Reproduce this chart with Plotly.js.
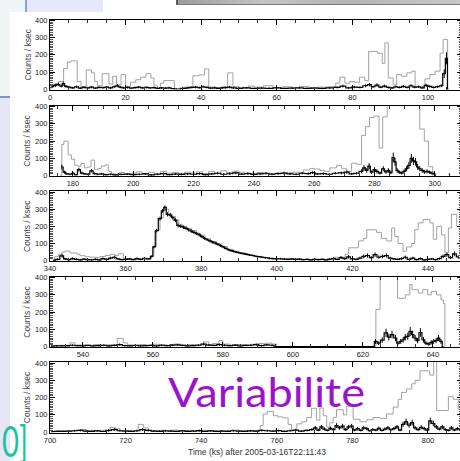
<!DOCTYPE html>
<html><head><meta charset="utf-8">
<script src="https://cdn.plot.ly/plotly-3.0.1.min.js"></script>
<style>
html,body{margin:0;padding:0;overflow:hidden;background:#fff;width:460px;height:461px;}
#wrap{position:relative;width:460px;height:461px;overflow:hidden;background:#fff;}
#chart{position:absolute;left:0;top:0;width:464px;height:461px;}
.d{position:absolute;box-sizing:border-box;}
#over{position:absolute;left:0;top:0;width:460px;height:461px;pointer-events:none;}
</style></head><body>
<div id="wrap">
  <div class="d" style="left:0;top:0;width:25px;height:12px;background:#f0f6f6"></div>
  <div class="d" style="left:25px;top:0;width:2px;height:12px;background:#8d9fe2"></div>
  <div class="d" style="left:27px;top:0;width:76px;height:12px;background:#e7e8f9"></div>
  <div class="d" style="left:176px;top:0;width:284px;height:5px;background:linear-gradient(90deg,#9c9c9c,#c4c4c4 30%,#b4b4b4 60%,#c8c8c8);border-left:2px solid #5a5a5a;border-bottom:1px solid #7a7a7a"></div>
  <div class="d" style="left:0;top:12px;width:10px;height:84px;background:#f0f6f6"></div>
  <div class="d" style="left:0;top:96px;width:10px;height:2px;background:#7e90d8"></div>
  <div class="d" style="left:0;top:98px;width:10px;height:363px;background:#e6e6f6"></div>
  <div id="chart"></div>
  <svg id="over" width="460" height="461">
    <text x="168" y="407" font-family="Lato, 'Noto Sans', sans-serif" font-size="41" fill="#9b13cf" textLength="197" lengthAdjust="spacingAndGlyphs">Variabilité</text>
    <text x="2" y="457" font-family="Lato, 'Noto Sans', sans-serif" font-size="42" fill="#1dc3a2" textLength="26" lengthAdjust="spacingAndGlyphs">0]</text>
  </svg>
</div>
<script>
// ---------- Panel 1 : 0 - 109 ks ----------
const gx1 = [0.0,0.3,1.2,2.3,3.6,4.6,5.6,7.2,8.2,9.6,11.0,11.8,12.6,13.8,15.6,16.6,17.6,18.8,20.0,21.3,22.7,24.0,25.4,26.7,27.5,28.4,29.2,30.1,32.9,35.2,37.8,39.4,40.9,42.0,44.0,45.5,47.0,48.4,50.0,52.5,54.0,56.5,59.0,61.5,64.0,66.0,68.5,71.0,73.5,75.6,76.7,78.0,79.3,80.6,81.9,83.3,84.3,86.6,87.9,88.6,89.5,90.8,91.7,93.0,94.4,95.7,96.6,98.3,99.2,100.5,101.9,103.2,104.0,105.2];
const gy1 = [0,25,30,45,120,158,165,45,15,112,95,45,20,90,30,75,25,85,15,40,55,70,90,65,20,5,35,50,0,12,78,83,118,12,8,14,95,15,10,18,12,20,10,14,8,16,10,12,14,35,70,35,45,40,70,50,220,210,150,270,65,25,85,75,95,105,12,15,60,85,105,210,290,0];
const bx1 = [0.5,1.4,2.2,3.0,3.5,4.2,5.0,6.0,7.0,8.0,9.0,10.0,11.0,12.0,13.0,14.0,15.0,16.0,17.0,17.8,18.6,19.5,20.5,21.5,22.5,23.5,24.5,25.5,26.5,27.5,28.5,29.5,30.5,31.5,32.5,33.4,35.6,36.5,37.5,38.5,39.5,40.5,41.5,42.5,43.5,44.5,45.5,46.5,47.5,48.5,50,52,54,56,58,60,62,64,66,68,70,72,74,76,77.5,79,80.5,82,83.5,84.5,85.5,86.5,87.5,88.5,89.5,90.5,91.5,92.5,93.5,94.5,95.5,96.5,97.5,98.5,99.5,100.5,101.5,102.5,103.5,104.3,104.9,105.4];
const by1 = [15,22,28,18,32,16,12,8,14,6,10,8,12,6,10,9,12,8,14,20,12,8,10,6,9,12,8,10,7,9,5,7,6,8,3,1,4,8,10,12,9,14,10,6,8,5,7,9,12,8,5,7,4,6,5,7,4,6,8,5,6,4,7,10,18,8,12,10,20,26,14,24,12,18,10,8,14,10,16,10,20,12,14,8,22,16,10,14,20,90,180,0];
const be1 = [8,10,10,8,12,8,7,6,7,5,6,6,7,5,6,6,7,6,7,9,7,6,6,5,6,7,6,6,5,6,5,5,5,6,4,3,4,6,6,7,6,7,6,5,6,5,5,6,7,6,5,5,4,5,5,5,4,5,6,5,5,4,5,6,8,6,7,6,9,10,7,10,7,8,6,6,7,6,8,6,9,7,7,6,10,8,6,7,9,25,35,0];

// ---------- Panel 2 : 172 - 309 ks ----------
const gx2 = [175.8,176.3,177.0,178.4,179.5,180.6,181.6,182.7,183.8,184.8,186.0,187.2,188.3,189.4,190.6,191.7,192.8,194.0,195.5,197,199,201,203,205,207,209,211,213,215,217,219,221,223,225,227,229,231,233,235,237,239,241,243,245,247,249,251,253,255.5,256.4,258.6,260.0,261.9,263.5,265.2,267.4,269.1,270.8,272.4,274.1,275.7,277.0,278.3,279.8,281.5,282.7,284.2,295.0,296.5,297.9,299.3];
const gy2 = [0,180,200,120,95,60,55,70,45,50,90,35,42,55,62,25,10,8,18,10,14,22,12,20,10,25,14,18,12,20,15,22,12,25,14,28,18,26,20,15,12,18,10,12,15,14,16,20,18,33,42,38,30,25,45,58,40,23,72,65,232,283,336,345,160,340,420,270,200,52,0];
const bx2 = [176.3,177.2,178.0,179.0,180.0,181.0,182.0,183.0,184.0,185.0,186.2,187.2,188.2,189.5,191,192.5,194,196,198,200,202,204,206,208,210,212,214,216,218,220,222,224,226,228,230,232,234,236,238,240,242,244,246,248,250,252,254,256,258,259.5,261,263,265,267,269,270.8,272.4,274,275.7,276.5,277.4,278.2,279.0,280.0,280.8,281.8,282.9,283.8,284.6,285.4,286.2,286.8,287.5,288.2,289.0,289.8,290.6,291.4,292.2,292.9,293.6,294.3,295.0,295.8,296.6,297.4,298.2,299.0,299.8,300.3];
const by2 = [50,20,10,8,14,6,35,15,10,8,28,12,8,10,6,8,5,7,9,6,8,10,5,8,12,6,9,7,10,8,12,6,10,14,8,11,16,9,12,7,10,14,8,12,15,10,8,14,12,18,10,12,8,14,16,20,10,14,25,45,30,55,20,35,25,15,40,22,30,18,105,80,30,20,15,25,40,60,100,85,80,50,40,30,22,25,20,15,10,0];
const be2 = [14,9,6,6,7,5,11,8,6,6,10,7,6,6,5,6,5,5,6,5,6,6,5,6,7,5,6,5,6,6,7,5,6,7,6,7,8,6,7,5,6,7,6,7,8,6,6,7,7,8,6,7,6,7,8,9,6,7,12,16,13,18,10,14,12,9,15,11,13,10,28,24,13,10,9,12,15,20,26,24,22,17,15,13,11,12,10,9,7,0];

// ---------- Panel 3 : 340 - 449 ks ----------
const gx3 = [340.9,341.2,342.2,343.1,344.0,345.3,347.1,347.9,349.3,350.6,352.4,353.2,354.6,355.9,357.2,358.1,359.4,360.3,362.0,364.0,366.0,366.9,367.5,368.2,369.1,370.0,370.6,371.4,372.3,373.2,374.1,375.0,376.2,377.5,378.8,379.9,381.0,382.5,384.0,385.5,387.0,388.5,390.0,392.0,394.0,396.0,398.0,400.0,403.0,406.0,410.0,413.0,415.0,418.1,419.0,421.6,422.9,423.8,426.4,427.7,429.1,430.4,431.2,432.1,433.4,434.3,435.7,436.5,437.4,438.7,440.5,441.4,442.3,443.6,444.5,445.4,446.2,447.6];
const gy3 = [0,23,37,50,56,45,38,29,23,20,18,24,30,37,30,40,12,8,10,6,12,28,82,178,248,292,300,272,258,238,212,200,188,175,160,148,128,112,96,82,66,54,44,34,25,18,12,10,8,6,8,6,20,38,75,115,130,180,165,130,115,190,140,100,55,80,100,180,220,240,220,125,200,150,45,190,270,200];
const bx3 = [341,342,343.2,344,345,346,347,348,349,350,351,352,353,354,355,356,357,358,359,360,361,362,363,364,365,366.2,366.9,367.5,368.2,369.1,369.8,370.4,371.1,371.8,372.5,373.2,373.9,374.6,375.3,376.0,376.7,377.4,378.1,378.8,379.5,380.2,380.9,381.6,382.3,383.0,383.7,384.4,385.1,385.8,386.5,387.2,387.9,388.6,389.3,390.0,390.7,391.4,392.1,392.8,393.5,394.2,394.9,395.6,396.3,397,398,399,400,401,402,403,404,405,406,407,408,409,410,411,412,413,414,415,416,417,418,419,420,421,422,423,424,425,426,427,428,429,430,431,432,433,434,435,436,437,438,439,440,441,442,443,444,445,446,447,448];
const by3 = [3,8,28,10,6,12,8,5,9,6,4,8,5,12,7,15,20,10,6,8,10,6,12,8,14,10,25,80,175,245,290,310,270,265,250,235,205,200,195,188,180,172,165,158,150,140,130,122,115,108,102,96,88,80,72,64,58,54,50,46,43,40,37,33,30,27,24,22,20,17,14,12,10,11,9,8,10,7,9,6,8,5,7,6,8,5,9,12,8,18,12,22,10,8,15,25,30,18,35,20,25,30,15,10,8,12,20,8,15,6,12,4,8,10,6,12,25,35,18,40,22];
const be3 = [4,6,11,6,5,7,6,5,6,5,4,6,5,7,5,8,9,6,5,6,6,5,7,6,7,4,6,8,10,11,12,12,12,12,11,11,11,10,10,10,10,10,10,9,9,9,9,8,8,8,8,8,8,7,7,7,7,7,6,6,6,6,6,6,5,5,5,5,5,5,7,6,6,6,5,5,6,5,5,5,5,4,5,5,5,4,5,7,5,9,7,10,6,5,8,11,12,9,13,10,11,12,8,6,5,7,10,5,8,5,7,4,5,6,5,7,11,13,9,14,10];

// ---------- Panel 4 : 530.6 - 648.3 ks ----------
const gx4 = [530.8,531.0,533,535,536.3,537.7,539,541,543,545,547,549.8,551.5,552.8,554,556,558,560,562,564,566.0,568.0,570,572,574.5,576.0,577.0,578.9,580.0,582,584,586,588,590,592,594,595.3,623.7,624.9,629.9,632.1,633.4,634.0,635.8,637.1,638.5,639.5,641.0,642.3,643.0,643.4];
const gy4 = [0,5,8,4,22,8,10,6,12,8,10,48,22,10,6,12,8,14,10,6,15,8,12,10,28,12,18,35,15,8,12,10,14,18,20,15,0,215,420,280,300,360,330,310,330,300,320,300,270,250,0];
const bx4 = [531,532.5,534,535.5,537,538.5,540,541.5,543,544.5,546,547.5,549,550.5,552,553.5,555,556.5,558,559.5,561,562.5,564,565.5,567,568.5,570,571.5,573,574.5,576,577.5,579,580.5,582,583.5,585,586.5,588,589.5,591,592.5,594,595.2,622.9,623.6,624.5,625.5,626.6,627.4,628.3,629.3,630.0,630.8,631.5,632.1,632.8,633.5,634.2,634.9,635.6,636.4,637.3,638.0,638.8,639.5,640.2,640.9,641.6,642.3,643.0];
const by4 = [3,5,4,6,8,6,5,7,4,6,8,5,7,12,6,5,8,4,6,7,5,8,6,9,10,7,5,6,8,15,9,7,12,8,6,9,5,7,8,12,6,10,8,0,0,30,20,38,80,55,70,50,20,30,40,55,60,88,70,50,35,82,40,20,15,25,30,35,50,30,0];
const be4 = [4,5,4,5,6,5,5,5,4,5,6,5,5,7,5,5,6,4,5,5,5,6,5,6,6,5,5,5,6,8,6,5,7,6,5,6,5,5,6,7,5,6,6,0,0,14,11,16,24,19,22,18,11,14,16,19,20,26,22,18,15,25,16,11,10,12,14,15,18,14,0];

// ---------- Panel 5 : 700 - 809 ks ----------
const gx5 = [700.2,700.5,702,704,706,708.0,709.7,711,713,715.9,717.2,718.5,720,721.5,723.3,724.7,726,728,730,732,734,736,738,740,742,744,746,748,750,752,754,755.6,756.4,757.5,759.1,760.3,761.7,763.0,763.9,765.3,766.6,767.9,769.2,770.5,771.4,772.3,773.2,774.0,774.9,775.8,777.6,778.5,780.2,782.0,783.8,785.5,787.3,789.0,790.8,792.1,793.0,794.3,795.7,796.6,797.9,800.5,801.5,802.3,805.4,806.7,808.0];
const gy5 = [0,5,8,6,10,15,8,10,6,28,20,8,10,6,45,25,8,10,6,12,8,10,6,8,10,6,8,12,8,10,6,38,105,120,95,88,82,45,10,48,60,85,138,70,140,95,30,55,86,130,100,150,75,60,72,85,80,105,145,190,230,250,280,300,355,330,420,125,205,190,130];
const bx5 = [700.5,702,703.5,705,706.5,708,709.5,711,712.5,714,715.5,717,718.5,720,721.5,723,724.5,726,727.5,729,730.5,732,733.5,735,736.5,738,739.5,741,742.5,744,745.5,747,748.5,750,751.5,753,754.5,756,757.5,759,760.5,762,763.5,765,766.5,768,769.3,770.2,771,771.8,772.6,773.4,774.2,775,775.8,776.6,777.4,778.2,779,779.8,780.6,781.4,782.2,783,783.8,784.6,785.4,786.2,787,787.8,788.6,789.4,790.2,791,791.8,792.6,793.4,794.2,795,795.8,796.6,797.4,798.2,799,799.8,800.6,801.4,802.2,803,803.8,804.6,805.4,806.2,807,807.8,808.6];
const by5 = [3,5,4,6,8,10,6,5,7,4,10,15,8,6,5,8,15,10,6,5,8,6,4,7,5,6,9,5,7,4,6,5,8,6,5,7,6,10,8,6,9,5,8,12,6,10,15,25,12,30,18,10,22,15,38,25,35,15,30,35,12,20,10,25,20,8,15,12,22,10,18,25,14,20,30,12,45,60,40,55,25,15,28,20,12,65,50,30,18,30,15,10,25,12,20,15];
const be5 = [4,5,4,5,6,6,5,5,5,4,6,8,6,5,5,6,8,6,5,5,6,5,4,5,5,5,6,5,5,4,5,5,6,5,5,5,5,6,6,5,6,5,6,7,5,6,8,11,7,12,9,6,10,8,14,11,13,8,12,13,7,10,6,11,10,6,8,7,10,6,9,11,8,10,12,7,15,18,14,17,11,8,12,10,7,19,16,12,9,12,8,6,11,7,10,8];

const yTickVals = [0,100,200,300,400];
const yTitle = 'Counts / ksec';
const xTitle = 'Time (ks) after 2005-03-16T22:11:43';

// ---------- layout geometry ----------
const W = 464, H = 461;
const ranges = [[0,109],[172.4,309.0],[340,449],[530.6,648.3],[700,809]];
const frames = [[19.5,89.5],[105.5,176],[191,261],[276.5,347],[362,432.5]];
const series = [[gx1,gy1,bx1,by1,be1],[gx2,gy2,bx2,by2,be2],[gx3,gy3,bx3,by3,be3],[gx4,gy4,bx4,by4,be4],[gx5,gy5,bx5,by5,be5]];

const traces = [];
const layout = {
  width: W, height: H,
  margin: {l:0, r:0, t:0, b:0, pad:0},
  paper_bgcolor: 'rgba(0,0,0,0)', plot_bgcolor: 'rgba(0,0,0,0)',
  showlegend: false,
  font: {family: 'Liberation Sans, Arial, sans-serif', size: 7.5, color: '#333'},
  annotations: [],
  shapes: [{type:'rect', xref:'paper', yref:'paper', x0:10/W, x1:1, y0:0, y1:1-12/H, fillcolor:'#ffffff', line:{width:0}, layer:'below'}]
};

series.forEach((s, i) => {
  const n = i + 1;
  const xa = 'x' + (n === 1 ? '' : n), ya = 'y' + (n === 1 ? '' : n);
  traces.push({x: s[0], y: s[1], xaxis: xa, yaxis: ya, mode: 'lines', hoverinfo: 'skip',
    line: {shape: 'hv', color: '#a2a2a2', width: 1}});
  traces.push({x: s[2], y: s[3], xaxis: xa, yaxis: ya, mode: 'lines', hoverinfo: 'skip',
    line: {shape: 'hvh', color: '#000000', width: 1.2},
    error_y: {type: 'data', array: s[4], visible: true, color: '#000000', thickness: 1, width: 0}});
  const [top, bot] = frames[i];
  layout['xaxis' + (n === 1 ? '' : n)] = {
    domain: [50/W, 462/W], anchor: ya, range: ranges[i],
    showline: true, linecolor: '#000', linewidth: 1, mirror: 'ticks',
    ticks: 'inside', ticklen: 5, tickwidth: 1, tickcolor: '#000',
    tickmode: 'linear', tick0: 0, dtick: 20,
    minor: {ticks: 'inside', ticklen: 3, dtick: 5, tick0: 0, tickcolor: '#333', tickwidth: 1},
    showgrid: false, zeroline: false, fixedrange: true,
    tickfont: {size: 7.5, color: '#222'}
  };
  layout['yaxis' + (n === 1 ? '' : n)] = {
    domain: [1 - bot/H, 1 - top/H], anchor: xa, range: [-2, 406],
    showline: true, linecolor: '#000', linewidth: 1, mirror: 'ticks',
    ticks: 'inside', ticklen: 5, tickwidth: 1, tickcolor: '#000',
    tickmode: 'array', tickvals: yTickVals,
    minor: {ticks: 'inside', ticklen: 3, dtick: 10, tick0: 0, tickcolor: '#555', tickwidth: 1},
    showgrid: false, zeroline: false, fixedrange: true,
    tickfont: {size: 7.5, color: '#222'}
  };
  layout.annotations.push({xref: 'paper', yref: 'paper', x: 27/W, y: 1 - (top + bot)/2/H,
    text: yTitle, textangle: -90, showarrow: false, xanchor: 'center', yanchor: 'middle',
    font: {size: 8.5, color: '#444'}});
});
layout.annotations.push({xref: 'paper', yref: 'paper', x: 257/W, y: 1 - 452/H,
  text: xTitle, showarrow: false, xanchor: 'center', yanchor: 'middle',
  font: {size: 8.5, color: '#333'}});

Plotly.newPlot('chart', traces, layout, {staticPlot: true, displayModeBar: false});
</script>
</body></html>
